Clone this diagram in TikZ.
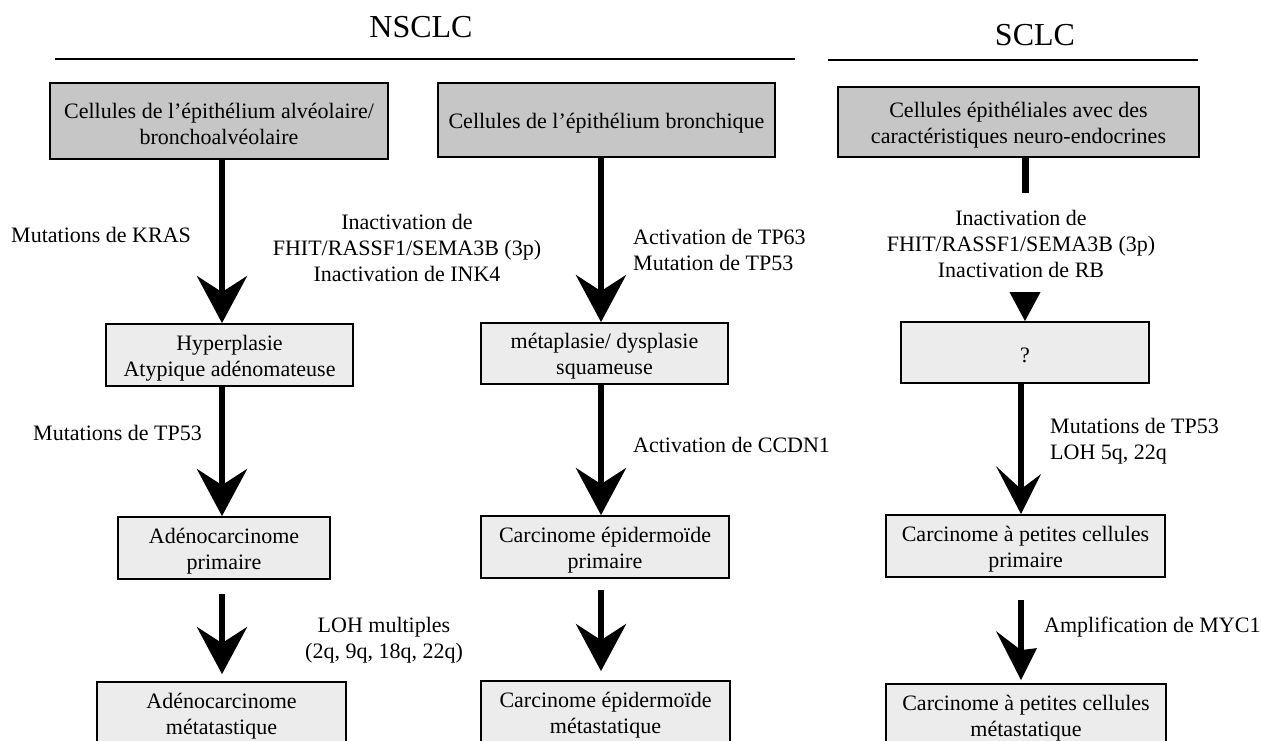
\documentclass[tikz,border=0pt]{standalone}
\usepackage{fontspec}
\setmainfont{Liberation Serif}
\usetikzlibrary{arrows.meta,calc}
\begin{document}
\begin{tikzpicture}[x=1pt,y=-1pt,
  box/.style={draw=black, line width=1.8pt, inner sep=0pt},
  darkbox/.style={box, fill=gray!45},
  lightbox/.style={box, fill=gray!15},
  lbl/.style={font=\fontsize{22}{26}\selectfont, inner sep=0pt},
  boxtext/.style={lbl, align=center, yshift=-3pt},
  ttl/.style={font=\fontsize{32}{38}\selectfont, inner sep=0pt},
  big/.style={line width=6pt, -{Stealth[length=47pt,width=50pt,inset=16pt]}},
  rulel/.style={line width=1.8pt},
  shaft/.style={line width=6pt}]
\useasboundingbox (0,0) rectangle (1261,740);
\clip (0,0) rectangle (1261,740);
\fill[white] (0,0) rectangle (1261,740);

% column coordinates
\coordinate (c1) at (222,0);
\coordinate (c2) at (601,0);
\coordinate (c3) at (1021,0);
\coordinate (c3b) at (1025,0);

% titles and rules
\node[ttl] (tN) at (421,27) {NSCLC};
\node[ttl] (tS) at (1035,35) {SCLC};
\coordinate (nl1) at (55,59);
\coordinate (nl2) at (795,59);
\coordinate (sl1) at (828,60);
\coordinate (sl2) at (1198,60);
\draw[rulel] (nl1) -- (nl2);
\draw[rulel] (sl1) -- (sl2);

% top boxes
\node[darkbox, minimum width=338pt, minimum height=76pt] (B1) at (219,121) {};
\node[boxtext] (B1t) at (B1) {Cellules de l’épithélium alvéolaire/\\bronchoalvéolaire};
\node[darkbox, minimum width=337pt, minimum height=74pt] (B2) at (606.5,120) {};
\node[boxtext] (B2t) at (B2) {Cellules de l’épithélium bronchique};
\node[darkbox, minimum width=361pt, minimum height=70pt] (B3) at (1018.5,122) {};
\node[boxtext] (B3t) at (B3) {Cellules épithéliales avec des\\caractéristiques neuro-endocrines};

% second row
\node[lightbox, minimum width=247pt, minimum height=62pt] (H) at (229.5,355) {};
\node[boxtext] (Ht) at (H) {Hyperplasie\\Atypique adénomateuse};
\node[lightbox, minimum width=247pt, minimum height=61pt] (M) at (604.5,353.5) {};
\node[boxtext] (Mt) at (M) {métaplasie/ dysplasie\\squameuse};
\node[lightbox, minimum width=248pt, minimum height=61pt] (Q) at (1025,352.5) {};
\node[boxtext] (Qt) at (Q) {?};

% third row
\node[lightbox, minimum width=212pt, minimum height=62pt] (AP) at (224,548) {};
\node[boxtext] (APt) at (AP) {Adénocarcinome\\primaire};
\node[lightbox, minimum width=248pt, minimum height=62pt] (EP) at (605,547) {};
\node[boxtext] (EPt) at (EP) {Carcinome épidermoïde\\primaire};
\node[lightbox, minimum width=279pt, minimum height=62pt] (SP) at (1025.5,546) {};
\node[boxtext] (SPt) at (SP) {Carcinome à petites cellules\\primaire};

% fourth row
\node[lightbox, minimum width=249pt, minimum height=62pt] (AM) at (221.5,713) {};
\node[boxtext] (AMt) at (AM) {Adénocarcinome\\métatastique};
\node[lightbox, minimum width=249pt, minimum height=62pt] (EM) at (605.5,712) {};
\node[boxtext] (EMt) at (EM) {Carcinome épidermoïde\\métastatique};
\node[lightbox, minimum width=280pt, minimum height=62pt] (SM) at (1026,715) {};
\node[boxtext] (SMt) at (SM) {Carcinome à petites cellules\\métastatique};

% NSCLC column 1 arrows
\draw[big] (B1.south -| c1) -- (H.north -| c1);
\draw[big] (H.south -| c1) -- (AP.north -| c1);
\draw[big, shorten <=14pt, shorten >=7pt] (AP.south -| c1) -- (AM.north -| c1);

% NSCLC column 2 arrows
\draw[big] (B2.south -| c2) -- (M.north -| c2);
\draw[big] (M.south -| c2) -- (EP.north -| c2);
\draw[big, shorten <=11pt, shorten >=9pt] (EP.south -| c2) -- (EM.north -| c2);

% SCLC column
\coordinate (barend) at (1025,193);
\draw[line width=7pt] (B3.south -| c3b) -- (barend);
\fill (Q.north -| c3b) -- ++(-15.5,-29) -- ++(31,0) -- cycle;

\coordinate (tip1) at (SP.north -| c3);
\draw[shaft] (Q.south -| c3) -- ($(tip1)+(0,-22)$);
\fill (tip1) -- ++(-25,-48) -- ++(25,23) -- ++(20,-15) -- cycle;

\coordinate (tip2) at ($(SM.north -| c3)+(0,-3)$);
\draw[shaft] ($(SP.south -| c3)+(0,22)$) -- ($(tip2)+(0,-26)$);
\fill (tip2) -- ++(-25,-49) -- ++(25,19) -- ++(16,-2) -- cycle;

% labels
\node[lbl, anchor=west] (kras) at (11,235) {Mutations de KRAS};
\node[lbl, align=center] (inact1) at (407,248)
  {Inactivation de\\FHIT/RASSF1/SEMA3B (3p)\\Inactivation de INK4};
\node[lbl, anchor=west, align=left] (act63) at (633,249.5)
  {Activation de TP63\\Mutation de TP53};
\node[lbl, anchor=west] (tp53a) at (33,433) {Mutations de TP53};
\node[lbl, anchor=west] (ccdn) at (633,445) {Activation de CCDN1};
\node[lbl, align=center] (inact2) at (1021,244)
  {Inactivation de\\FHIT/RASSF1/SEMA3B (3p)\\Inactivation de RB};
\node[lbl, anchor=west, align=left] (tp53b) at (1050,441)
  {Mutations de TP53\\LOH 5q, 22q};
\node[lbl, align=center] (loh) at (384,640)
  {LOH multiples\\(2q, 9q, 18q, 22q)};
\node[lbl, anchor=west] (myc) at (1044,627) {Amplification de MYC1};
\end{tikzpicture}
\end{document}
